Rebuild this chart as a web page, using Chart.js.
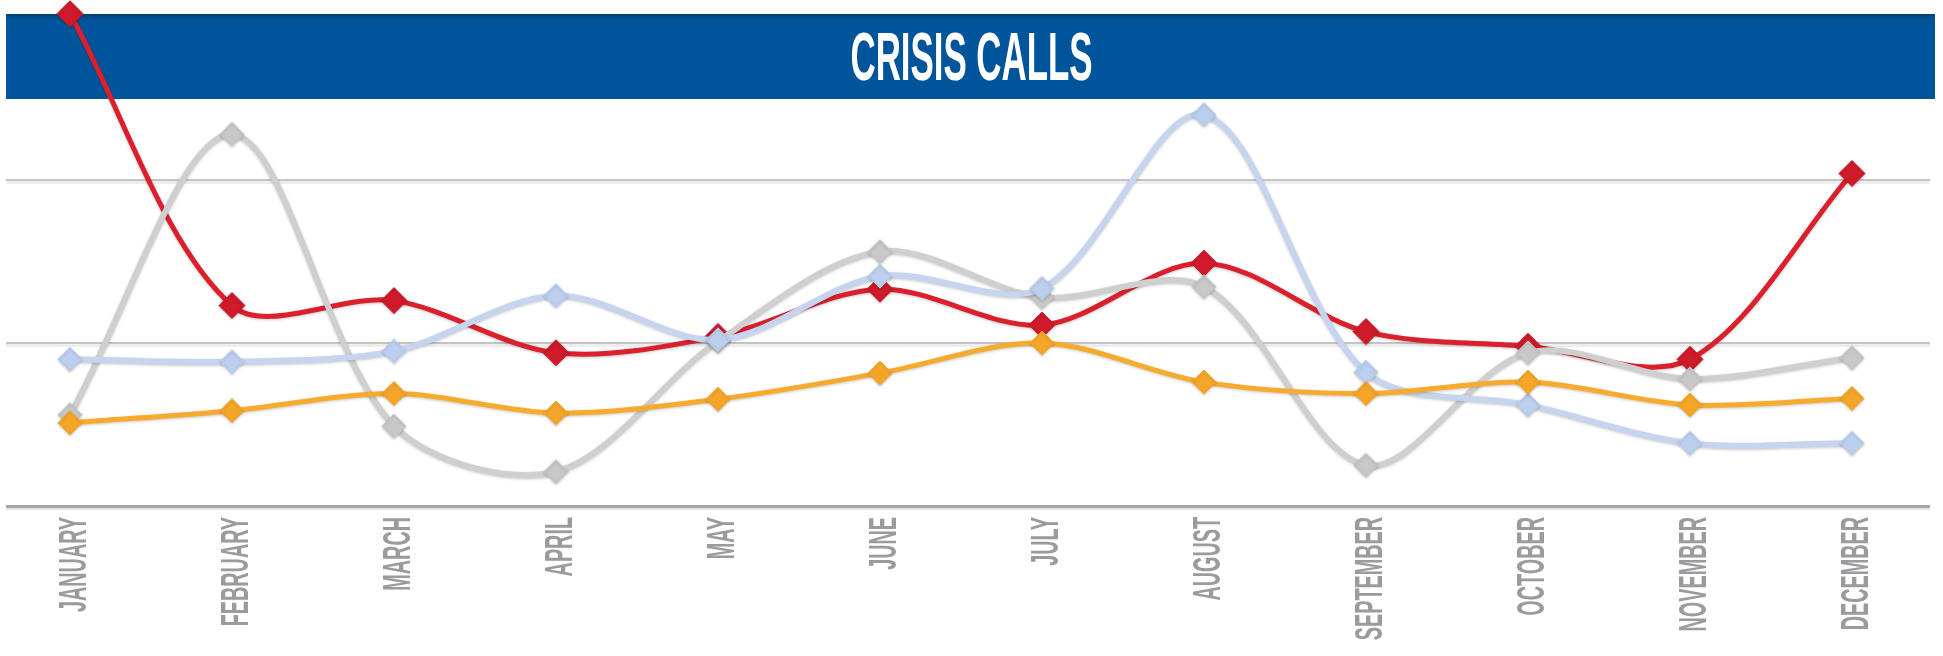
<!DOCTYPE html>
<html>
<head>
<meta charset="utf-8">
<script src="https://cdn.jsdelivr.net/npm/chart.js@4/dist/chart.umd.min.js"></script>
<style>
html,body{margin:0;padding:0;background:#ffffff;overflow:hidden}
#wrap{width:1943px;height:656px;position:relative}
</style>
</head>
<body>
<div id="wrap"><canvas id="c" width="1943" height="656"></canvas></div>
<script>
// ---- data ----
const chartTitle = 'CRISIS CALLS';
const months = ['JANUARY','FEBRUARY','MARCH','APRIL','MAY','JUNE','JULY','AUGUST','SEPTEMBER','OCTOBER','NOVEMBER','DECEMBER'];
const seriesRed    = [302, 123, 126, 94, 104, 133, 111, 149, 107, 98, 90, 204];
const seriesBlue   = [90, 88.5, 95, 129, 102, 141, 133.5, 240, 82, 62, 38.5, 38.5];
const seriesOrange = [51, 58.5, 69, 57, 65.5, 81.5, 100, 76, 69, 76, 62, 66];
const seriesGray   = [56, 228, 49, 21, 101, 156, 128, 134.5, 25, 94, 78, 91];
const yTicks = [0, 100, 200, 300];

const FONT_STACK = "'Liberation Sans Narrow','Liberation Sans',Arial,sans-serif";

const decor = {
  id: 'decor',
  beforeDatasetsDraw(chart) {
    const ctx = chart.ctx;
    const y = chart.scales.y, x = chart.scales.x;
    const L = 6, R = 1930;
    ctx.save();
    const ticks = (y.ticks && y.ticks.length) ? y.ticks.map(t => t.value) : yTicks;
    ticks.forEach(v => {
      const py = Math.round(y.getPixelForValue(v));
      if (v === y.min) {
        ctx.fillStyle = '#e6e6e6'; ctx.fillRect(L, py + 1, R - L, 3);
        ctx.fillStyle = '#a6a6a6'; ctx.fillRect(L, py - 1, R - L, 3);
      } else {
        ctx.fillStyle = '#eeeeee'; ctx.fillRect(L, py + 1, R - L, 3);
        ctx.fillStyle = '#c4c4c4'; ctx.fillRect(L, py - 1, R - L, 2);
      }
    });
    ctx.fillStyle = '#00549a';
    ctx.fillRect(6, 14, 1929, 85);
    const g = ctx.createLinearGradient(0, 14, 0, 21);
    g.addColorStop(0, '#083c6a'); g.addColorStop(1, 'rgba(0,84,154,0)');
    ctx.fillStyle = g; ctx.fillRect(6, 14, 1929, 7);
    ctx.font = 'bold 68px ' + FONT_STACK;
    const tw = ctx.measureText(chartTitle).width;
    ctx.save();
    ctx.translate(971.5, 80);
    ctx.scale(242 / tw, 1);
    ctx.fillStyle = '#ffffff';
    ctx.textAlign = 'center';
    ctx.textBaseline = 'alphabetic';
    ctx.fillText(chartTitle, 0, 0);
    ctx.restore();
    ctx.font = 'bold 39px ' + FONT_STACK;
    const sx = 95 / ctx.measureText('JANUARY').width;
    ctx.fillStyle = '#9a9b9e';
    ctx.textAlign = 'right';
    ctx.textBaseline = 'alphabetic';
    x.getLabels().forEach((lab, i) => {
      const px = x.getPixelForValue(i) + 2;
      ctx.save();
      ctx.translate(px, 517);
      ctx.rotate(-Math.PI / 2);
      ctx.scale(sx, 1);
      ctx.fillText(lab, 0, 14);
      ctx.restore();
    });
    ctx.restore();
  },
  beforeDatasetDraw(chart) {
    const ctx = chart.ctx;
    ctx.save();
    ctx.shadowColor = 'rgba(0,0,0,0.22)';
    ctx.shadowBlur = 3;
    ctx.shadowOffsetY = 1;
  },
  afterDatasetDraw(chart) {
    chart.ctx.restore();
  }
};

function ds(label, data, line, fill, width, r) {
  return {
    label, data,
    borderColor: line, backgroundColor: fill,
    borderWidth: width,
    pointStyle: 'rectRot', pointRadius: r,
    pointBackgroundColor: fill, pointBorderColor: fill, pointBorderWidth: 1,
    tension: 0.32, clip: false, fill: false
  };
}

new Chart(document.getElementById('c').getContext('2d'), {
  type: 'line',
  data: {
    labels: months,
    datasets: [
      ds('Orange', seriesOrange, '#f7ab2e', '#f5a628', 5, 12),
      ds('Blue', seriesBlue, '#c6d4ef', '#bccfee', 6, 12),
      ds('Gray', seriesGray, '#cfcfcf', '#c8c8c8', 6, 12),
      ds('Red', seriesRed, '#dc1f2d', '#cf1a29', 5, 13)
    ]
  },
  options: {
    responsive: false,
    animation: false,
    devicePixelRatio: 1,
    layout: { padding: { left: 70, right: 91, top: 17, bottom: 0 } },
    plugins: { legend: { display: false }, tooltip: { enabled: false }, title: { display: false } },
    scales: {
      x: {
        type: 'category', offset: false,
        grid: { display: false }, border: { display: false },
        ticks: { display: false },
        afterFit(s) { s.height = 150; }
      },
      y: {
        min: 0, max: 300,
        ticks: { stepSize: 100, display: false },
        grid: { display: false }, border: { display: false },
        afterFit(s) { s.width = 0; }
      }
    }
  },
  plugins: [decor]
});
</script>
</body>
</html>
